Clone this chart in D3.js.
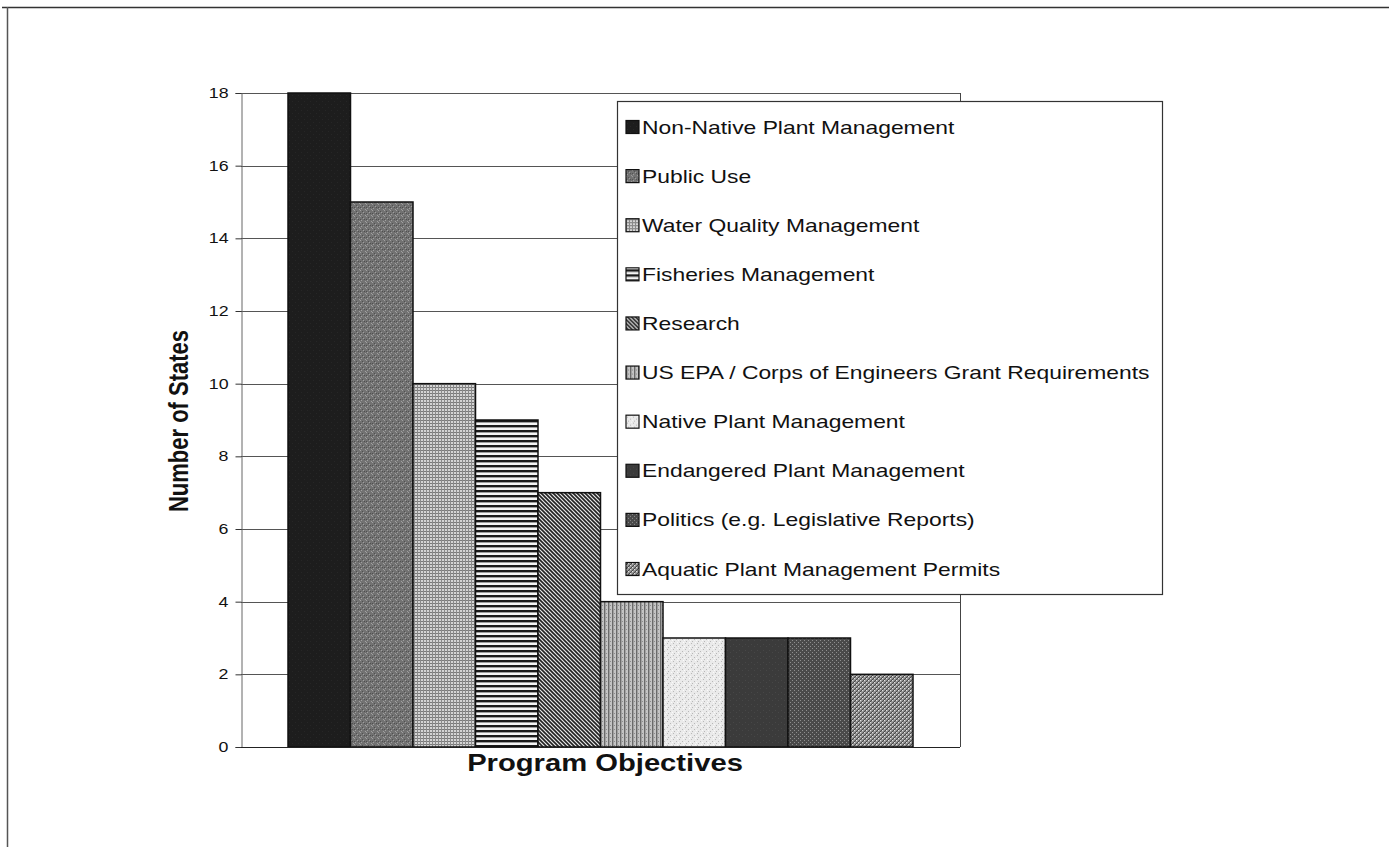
<!DOCTYPE html>
<html>
<head>
<meta charset="utf-8">
<script src="https://cdn.jsdelivr.net/npm/d3@7/dist/d3.min.js"></script>
<style>
  html, body { margin: 0; padding: 0; background: #fff; }
  svg { display: block; font-family: Arial, "Liberation Sans", sans-serif; }
</style>
</head>
<body>
<svg id="chart" width="1389" height="847"></svg>
<script>
// Program objectives reported by states (one category, ten series)
const category = ["Program Objectives"];
const seriesNames = [
  "Non-Native Plant Management",
  "Public Use",
  "Water Quality Management",
  "Fisheries Management",
  "Research",
  "US EPA / Corps of Engineers Grant Requirements",
  "Native Plant Management",
  "Endangered Plant Management",
  "Politics (e.g. Legislative Reports)",
  "Aquatic Plant Management Permits"
];
const seriesValues = [18, 15, 10, 9, 7, 4, 3, 3, 3, 2];
const yTicks = [0, 2, 4, 6, 8, 10, 12, 14, 16, 18];

// Text in this layout is set wider than its height (horizontal stretch)
const SX = 1.27;

const svg = d3.select("#chart");
const defs = svg.append("defs");

// Monochrome fill patterns, one per series
function pat(id, size, bg, draw) {
  const p = defs.append("pattern").attr("id", id)
    .attr("patternUnits", "userSpaceOnUse")
    .attr("width", size).attr("height", size);
  p.append("rect").attr("width", size).attr("height", size).attr("fill", bg);
  draw(p);
}
const dots = (p, pts, c, s) => pts.forEach(([x, y]) =>
  p.append("rect").attr("x", x).attr("y", y).attr("width", s).attr("height", s).attr("fill", c));

pat("p0", 6, "#1d1d1d", p => dots(p, [[1, 2], [4, 5]], "#262626", 1));
pat("p1", 6, "#727272", p => {
  dots(p, [[0, 0], [3, 2], [1, 4], [5, 5]], "#a0a0a0", 1);
  dots(p, [[2, 1], [4, 3], [0, 3]], "#505050", 1);
});
pat("p2", 3, "#d4d4d4", p => {
  p.append("rect").attr("x", 0).attr("y", 0).attr("width", 3).attr("height", 1).attr("fill", "#7a7a7a");
  p.append("rect").attr("x", 0).attr("y", 0).attr("width", 1).attr("height", 3).attr("fill", "#8a8a8a");
});
pat("p3", 5, "#f4f4f4", p =>
  p.append("rect").attr("x", 0).attr("y", 0).attr("width", 5).attr("height", 2.4).attr("fill", "#1a1a1a"));
pat("p4", 4, "#e8e8e8", p =>
  p.append("path").attr("d", "M-1,-1 L5,5 M-1,3 L1,5 M3,-1 L5,1")
    .attr("stroke", "#222").attr("stroke-width", 1.6));
pat("p5", 4, "#c4c4c4", p => {
  p.append("rect").attr("x", 0).attr("y", 0).attr("width", 1.4).attr("height", 4).attr("fill", "#6a6a6a");
  dots(p, [[2, 1]], "#8c8c8c", 1);
});
pat("p6", 6, "#eaeaea", p => {
  dots(p, [[1, 1], [4, 3], [2, 5]], "#b8b8b8", 1);
  dots(p, [[5, 0], [0, 4]], "#fafafa", 1);
});
pat("p7", 6, "#3b3b3b", p => dots(p, [[1, 2], [4, 4]], "#474747", 1));
pat("p8", 4, "#4a4a4a", p => dots(p, [[0, 0], [2, 2]], "#8e8e8e", 1));
pat("p9", 4, "#a2a2a2", p => {
  p.append("path").attr("d", "M-1,5 L5,-1 M-1,1 L1,-1 M3,5 L5,3")
    .attr("stroke", "#444").attr("stroke-width", 1.1);
  dots(p, [[0, 0], [2, 2]], "#e0e0e0", 1);
});
const fills = seriesNames.map((d, i) => `url(#p${i})`);

// Outer page frame
svg.append("line").attr("x1", 2).attr("x2", 1389).attr("y1", 7.5).attr("y2", 7.5)
  .attr("stroke", "#333").attr("stroke-width", 1.5);
svg.append("line").attr("x1", 7.5).attr("x2", 7.5).attr("y1", 7).attr("y2", 847)
  .attr("stroke", "#555").attr("stroke-width", 1.5);

// Plot area
const plot = { left: 241, right: 960, top: 93, bottom: 747 };
const y = d3.scaleLinear().domain([0, 18]).range([plot.bottom, plot.top]);
const x0 = d3.scaleBand().domain(category).range([plot.left, plot.right])
  .paddingInner(0).paddingOuter(0.0752);
const x1 = d3.scaleBand().domain(seriesNames).range([0, x0.bandwidth()]).padding(0);

// Gridlines
const g = svg.append("g");
g.selectAll("line.grid").data(yTicks.filter(t => t > 0)).join("line")
  .attr("class", "grid")
  .attr("x1", plot.left).attr("x2", plot.right)
  .attr("y1", d => Math.round(y(d)) + 0.5).attr("y2", d => Math.round(y(d)) + 0.5)
  .attr("stroke", "#555").attr("stroke-width", 1);

// Plot area right border
svg.append("line").attr("x1", plot.right + 0.5).attr("x2", plot.right + 0.5)
  .attr("y1", plot.top).attr("y2", plot.bottom).attr("stroke", "#444");

// Bars
svg.append("g").selectAll("rect").data(seriesValues).join("rect")
  .attr("x", (d, i) => x0(category[0]) + x1(seriesNames[i]))
  .attr("y", d => y(d))
  .attr("width", x1.bandwidth())
  .attr("height", d => plot.bottom - y(d))
  .attr("fill", (d, i) => fills[i])
  .attr("stroke", "#111").attr("stroke-width", 1.5);

// Y axis
const yAxis = d3.axisLeft(y).tickValues(yTicks).tickSize(6).tickPadding(7);
const ya = svg.append("g").attr("transform", `translate(${plot.left + 0.5},0)`).call(yAxis);
ya.select(".domain").attr("stroke", "#666");
ya.selectAll(".tick line").attr("stroke", "#333");
ya.selectAll(".tick text").attr("font-size", 14).attr("fill", "#111")
  .attr("font-family", "Arial, 'Liberation Sans', sans-serif")
  .attr("x", -13 / SX)
  .attr("transform", `scale(${SX},1)`);

// X axis baseline
svg.append("line").attr("x1", plot.left).attr("x2", plot.right)
  .attr("y1", plot.bottom + 0.5).attr("y2", plot.bottom + 0.5)
  .attr("stroke", "#222").attr("stroke-width", 1.2);

// Axis titles
svg.append("text").attr("transform", `translate(188,421) scale(${SX},1) rotate(-90)`)
  .attr("text-anchor", "middle").attr("font-size", 22).attr("font-weight", "bold")
  .attr("fill", "#111").text("Number of States");
svg.append("text").attr("transform", `translate(605,771) scale(${SX},1)`)
  .attr("text-anchor", "middle").attr("font-size", 23).attr("font-weight", "bold")
  .attr("fill", "#111").text(category[0]);

// Legend
const legend = { x: 617, y: 101, w: 545, h: 493 };
svg.append("rect").attr("x", legend.x + 0.5).attr("y", legend.y + 0.5)
  .attr("width", legend.w).attr("height", legend.h)
  .attr("fill", "#fff").attr("stroke", "#333").attr("stroke-width", 1.2);
const rowY = d3.scalePoint().domain(seriesNames).range([127, 569]);
const items = svg.append("g").selectAll("g").data(seriesNames).join("g")
  .attr("transform", d => `translate(${legend.x + 9},${rowY(d)})`);
items.append("rect").attr("x", 0).attr("y", -6.5).attr("width", 13).attr("height", 13)
  .attr("fill", (d, i) => fills[i]).attr("stroke", "#111").attr("stroke-width", 1.2);
items.append("text").attr("transform", `translate(16,6.5) scale(${SX},1)`)
  .attr("font-size", 18).attr("fill", "#111").text(d => d);
</script>
</body>
</html>
